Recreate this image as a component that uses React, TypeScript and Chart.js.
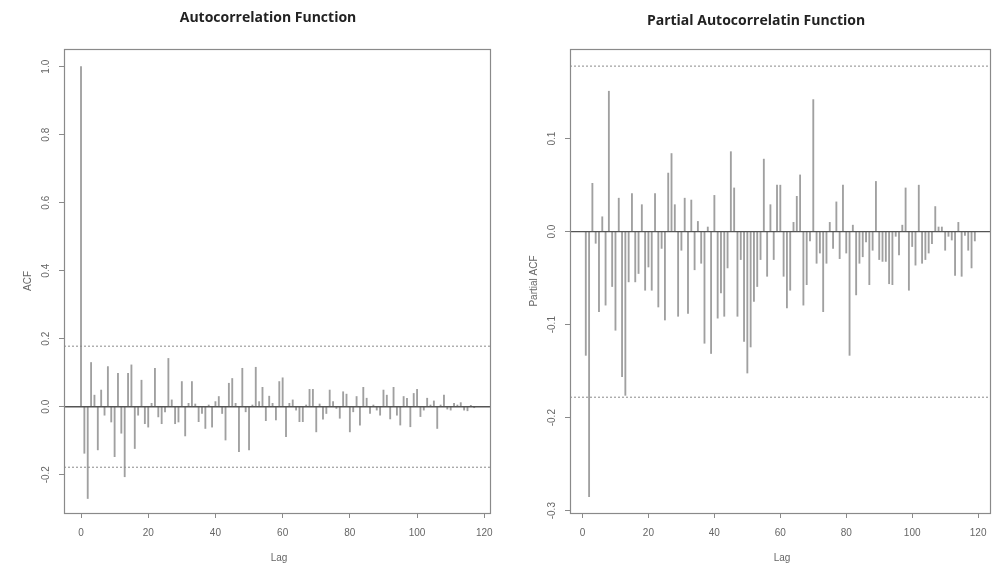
import React, { useEffect, useRef } from 'react';
import { Chart, registerables } from 'chart.js';

Chart.register(...registerables);

// ACF values, lags 0..117
const acfValues = [
  1.0, -0.137, -0.27, 0.13, 0.034, -0.127, 0.049, -0.025, 0.118, -0.045,
  -0.147, 0.098, -0.078, -0.206, 0.098, 0.123, -0.123, -0.025, 0.078, -0.05,
  -0.06, 0.01, 0.113, -0.03, -0.05, -0.015, 0.142, 0.02, -0.05, -0.045,
  0.074, -0.086, 0.01, 0.074, 0.008, -0.044, -0.02, -0.064, 0.005, -0.06,
  0.015, 0.03, -0.02, -0.098, 0.069, 0.083, 0.01, -0.132, 0.113, -0.015,
  -0.127, 0.005, 0.116, 0.015, 0.057, -0.041, 0.031, 0.01, -0.039, 0.074,
  0.085, -0.088, 0.01, 0.02, -0.01, -0.044, -0.044, 0.005, 0.051, 0.051,
  -0.074, 0.008, -0.037, -0.02, 0.049, 0.015, -0.005, -0.034, 0.044, 0.037,
  -0.074, -0.015, 0.03, -0.054, 0.057, 0.025, -0.02, 0.005, -0.01, -0.025,
  0.049, 0.034, -0.036, 0.057, -0.025, -0.054, 0.03, 0.025, -0.059, 0.039,
  0.051, -0.029, -0.01, 0.025, 0.005, 0.017, -0.064, 0.005, 0.034, -0.007,
  -0.01, 0.01, 0.005, 0.012, -0.01, -0.012, 0.004, -0.003,
];

// PACF values, lags 1..119
const pacfValues = [
  -0.133, -0.285, 0.052, -0.0125, -0.086, 0.016, -0.079, 0.151, -0.059, -0.106,
  0.036, -0.156, -0.176, -0.054, 0.041, -0.054, -0.045, 0.029, -0.063, -0.038,
  -0.063, 0.041, -0.081, -0.018, -0.095, 0.063, 0.084, 0.029, -0.091, -0.02,
  0.036, -0.088, 0.034, -0.041, 0.011, -0.034, -0.12, 0.005, -0.131, 0.039,
  -0.093, -0.066, -0.091, -0.039, 0.086, 0.047, -0.091, -0.03, -0.118, -0.152,
  -0.124, -0.075, -0.059, -0.03, 0.078, -0.048, 0.029, -0.03, 0.05, 0.05,
  -0.048, -0.082, -0.063, 0.01, 0.038, 0.061, -0.079, -0.057, -0.01, 0.142,
  -0.034, -0.023, -0.086, -0.034, 0.01, -0.018, 0.032, -0.029, 0.05, -0.023,
  -0.133, 0.007, -0.068, -0.034, -0.027, -0.011, -0.057, -0.02, 0.054, -0.03,
  -0.032, -0.032, -0.056, -0.057, -0.005, -0.025, 0.007, 0.047, -0.063, -0.016,
  -0.036, 0.05, -0.034, -0.03, -0.023, -0.013, 0.027, 0.005, 0.005, -0.02,
  -0.005, -0.009, -0.047, 0.01, -0.048, -0.004, -0.02, -0.039, -0.01,
];

const confLimit = 0.178;
const xTickValues = [0, 20, 40, 60, 80, 100, 120];
const acfYTicks = [-0.2, 0, 0.2, 0.4, 0.6, 0.8, 1.0];
const acfYTickLabels = ['-0.2', '0.0', '0.2', '0.4', '0.6', '0.8', '1.0'];
const pacfYTicks = [-0.3, -0.2, -0.1, 0, 0.1];
const pacfYTickLabels = ['-0.3', '-0.2', '-0.1', '0.0', '0.1'];

const FONT = '"Liberation Sans Narrow", "Liberation Sans", Arial, sans-serif';
const GRAY = '#8a8a8a';

type Panel = {
  title: string;
  yTitle: string;
  points: { x: number; y: number }[];
  xMin: number;
  xMax: number;
  yMin: number;
  yMax: number;
  yTicks: number[];
  yTickLabels: string[];
  axisW: number;
  rightPad: number;
  titleX: number;
  titleY: number;
};

function makeChart(canvas: HTMLCanvasElement, p: Panel) {
  const decor = {
    id: 'rdecor',
    afterDraw(chart: any) {
      const { ctx, chartArea: a } = chart;
      const ys = chart.scales.y;
      ctx.save();
      ctx.strokeStyle = GRAY;
      ctx.lineWidth = 1.2;
      ctx.strokeRect(a.left + 0.5, a.top + 0.5, a.right - a.left, a.bottom - a.top);
      ctx.fillStyle = '#666';
      ctx.font = `10px ${FONT}`;
      ctx.textAlign = 'center';
      ctx.textBaseline = 'middle';
      p.yTicks.forEach((v, i) => {
        const py = ys.getPixelForValue(v);
        ctx.save();
        ctx.translate(a.left - 18, py);
        ctx.rotate(-Math.PI / 2);
        ctx.fillText(p.yTickLabels[i], 0, 0);
        ctx.restore();
      });
      ctx.save();
      ctx.translate(a.left - 36, (a.top + a.bottom) / 2);
      ctx.rotate(-Math.PI / 2);
      ctx.fillText(p.yTitle, 0, 0);
      ctx.restore();
      ctx.fillText('Lag', (a.left + a.right) / 2 + 2, 558);
      ctx.fillStyle = '#222';
      ctx.font = `bold 14px "Open Sans", sans-serif`;
      ctx.fillText(p.title, p.titleX, p.titleY);
      ctx.restore();
    },
  };

  return new Chart(canvas, {
    type: 'bar',
    data: {
      datasets: [
        {
          type: 'line',
          data: [
            { x: p.xMin, y: 0 },
            { x: p.xMax, y: 0 },
          ],
          borderColor: '#555',
          borderWidth: 1.4,
          pointRadius: 0,
          order: 0,
        } as any,
        {
          type: 'line',
          data: [
            { x: p.xMin, y: confLimit },
            { x: p.xMax, y: confLimit },
          ],
          borderColor: GRAY,
          borderWidth: 1,
          borderDash: [2, 2],
          pointRadius: 0,
          order: 1,
        } as any,
        {
          type: 'line',
          data: [
            { x: p.xMin, y: -confLimit },
            { x: p.xMax, y: -confLimit },
          ],
          borderColor: GRAY,
          borderWidth: 1,
          borderDash: [2, 2],
          pointRadius: 0,
          order: 1,
        } as any,
        {
          type: 'bar',
          data: p.points,
          backgroundColor: '#a0a0a0',
          barThickness: 1.2,
          order: 2,
        } as any,
      ],
    },
    options: {
      responsive: false,
      animation: false,
      events: [],
      layout: { padding: { left: 0, right: p.rightPad, top: 49, bottom: 0 } },
      plugins: { legend: { display: false }, tooltip: { enabled: false }, title: { display: false } },
      scales: {
        x: {
          type: 'linear',
          min: p.xMin,
          max: p.xMax,
          offset: false,
          grid: { display: true, offset: false, drawOnChartArea: false, drawTicks: true, tickLength: 5, color: GRAY },
          border: { display: true, color: GRAY },
          ticks: {
            autoSkip: false,
            maxRotation: 0,
            minRotation: 0,
            padding: 9,
            color: '#666',
            font: { family: FONT, size: 10 },
            callback: (v: any) => String(v),
          },
          afterBuildTicks: (s: any) => {
            s.ticks = xTickValues.map((v) => ({ value: v }));
          },
          afterFit: (s: any) => {
            s.height = 54;
            s.paddingLeft = 0;
            s.paddingRight = 0;
          },
        },
        y: {
          type: 'linear',
          min: p.yMin,
          max: p.yMax,
          grid: { display: true, drawOnChartArea: false, drawTicks: true, tickLength: 5, color: GRAY },
          border: { display: true, color: GRAY },
          ticks: { display: false },
          afterBuildTicks: (s: any) => {
            s.ticks = p.yTicks.map((v) => ({ value: v }));
          },
          afterFit: (s: any) => {
            s.width = p.axisW;
            s.paddingTop = 0;
            s.paddingBottom = 0;
          },
        },
      },
    } as any,
    plugins: [decor],
  });
}

export default function App() {
  const leftRef = useRef<HTMLCanvasElement>(null);
  const rightRef = useRef<HTMLCanvasElement>(null);

  useEffect(() => {
    const left = makeChart(leftRef.current!, {
      title: 'Autocorrelation Function',
      yTitle: 'ACF',
      points: acfValues.map((v, i) => ({ x: i, y: v })),
      xMin: -5.06,
      xMax: 121.7,
      yMin: -0.3126,
      yMax: 1.052,
      yTicks: acfYTicks,
      yTickLabels: acfYTickLabels,
      axisW: 64,
      rightPad: 8,
      titleX: 268,
      titleY: 18,
    });
    const right = makeChart(rightRef.current!, {
      title: 'Partial Autocorrelatin Function',
      yTitle: 'Partial ACF',
      points: pacfValues.map((v, i) => ({ x: i + 1, y: v })),
      xMin: -3.79,
      xMax: 123.6,
      yMin: -0.3025,
      yMax: 0.1964,
      yTicks: pacfYTicks,
      yTickLabels: pacfYTickLabels,
      axisW: 72,
      rightPad: 6,
      titleX: 258,
      titleY: 21,
    });
    return () => {
      left.destroy();
      right.destroy();
    };
  }, []);

  return (
    <div style={{ position: 'fixed', left: 0, top: 0, width: 996, height: 567, background: '#fff' }}>
      <canvas ref={leftRef} width={498} height={567} style={{ position: 'absolute', left: 0, top: 0 }} />
      <canvas ref={rightRef} width={498} height={567} style={{ position: 'absolute', left: 498, top: 0 }} />
    </div>
  );
}
